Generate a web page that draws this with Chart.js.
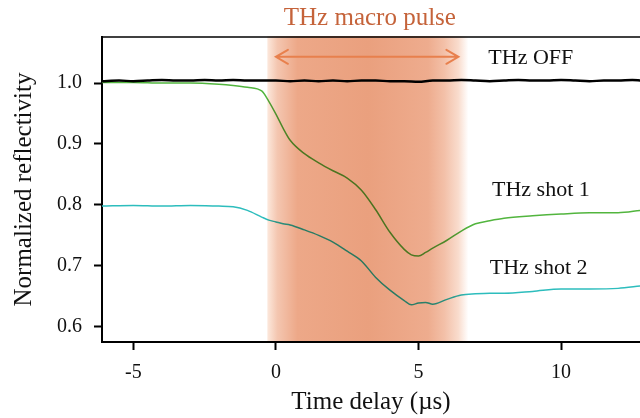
<!DOCTYPE html>
<html>
<head>
<meta charset="utf-8">
<script src="https://cdn.jsdelivr.net/npm/chart.js@4"></script>
<style>
  html, body { margin: 0; padding: 0; background: #fff; }
  #wrap { width: 640px; height: 418px; }
</style>
</head>
<body>
<div id="wrap"><canvas id="chart" width="640" height="418"></canvas></div>
<script>
// Time delay (µs) for the THz OFF trace
const offTimes = [-6.1, -5.5, -5, -4.5, -4, -3.5, -3, -2.5, -2, -1.5, -1, -0.5, 0, 0.5, 1, 1.5, 2, 2.5, 3, 3.5,
  4, 4.5, 5, 5.5, 6, 6.5, 7, 7.5, 8, 8.5, 9, 9.5, 10, 10.5, 11, 11.5, 12, 12.5, 12.8];
const thzOff = [1.003, 1.004, 1.003, 1.004, 1.005, 1.004, 1.004, 1.005, 1.004, 1.005, 1.004, 1.004, 1.004, 1.003, 1.004, 1.003, 1.004, 1.003, 1.004, 1.004,
  1.003, 1.003, 1.002, 1.004, 1.004, 1.005, 1.004, 1.003, 1.004, 1.005, 1.004, 1.004, 1.005, 1.004, 1.003, 1.004, 1.004, 1.005, 1.004];

// Time delay (µs) for the two THz shots
const shotTimes = [-6.1, -5, -4, -3, -2, -1.5, -1, -0.5, -0.25, 0, 0.25, 0.5, 1, 1.5, 2, 2.5, 3, 3.5, 4, 4.5,
  4.75, 5, 5.25, 5.5, 6, 6.5, 7, 7.5, 8, 9, 10, 11, 12, 12.8];
const thzShot1 = [1.001, 1.001, 1.000, 1.000, 0.998, 0.996, 0.993, 0.987, 0.970, 0.949, 0.926, 0.906, 0.884, 0.869, 0.856, 0.844, 0.824, 0.792, 0.755, 0.727,
  0.718, 0.716, 0.722, 0.729, 0.742, 0.757, 0.769, 0.774, 0.778, 0.782, 0.785, 0.787, 0.787, 0.791];
const thzShot2 = [0.798, 0.799, 0.798, 0.799, 0.798, 0.797, 0.791, 0.780, 0.775, 0.772, 0.769, 0.767, 0.759, 0.750, 0.739, 0.724, 0.708, 0.681, 0.660, 0.643,
  0.636, 0.639, 0.640, 0.637, 0.645, 0.652, 0.654, 0.655, 0.655, 0.658, 0.662, 0.662, 0.663, 0.667];

// Axis ticks
const xTicks = [-5, 0, 5, 10];
const yTicks = [0.6, 0.7, 0.8, 0.9, 1.0];

// THz macro pulse window and trace labels
const pulseWindow = [-0.3, 6.75];
const pulseArrow = [0, 6.4, 1.043];
const traceLabels = ['THz OFF', 'THz shot 1', 'THz shot 2'];
const labelX = [7.45, 7.58, 7.5];
const labelY = [1.040, 0.824, 0.696];

const serif = '"Liberation Serif", "Times New Roman", serif';

const toPoints = (xs, ys) => xs.map((x, i) => ({ x: x, y: ys[i] }));

// Draws the top frame line, the shaded pulse, arrow and text
const overlayPlugin = {
  id: 'overlay',
  beforeDatasetsDraw(chart) {
    const { ctx, chartArea } = chart;
    ctx.save();
    ctx.strokeStyle = '#000';
    ctx.lineWidth = 1.5;
    ctx.beginPath();
    ctx.moveTo(chartArea.left, chartArea.top);
    ctx.lineTo(chartArea.right, chartArea.top);
    ctx.stroke();
    ctx.restore();
  },
  afterDatasetsDraw(chart) {
    const { ctx, chartArea, scales } = chart;
    const x0 = scales.x.getPixelForValue(pulseWindow[0]);
    const x1 = scales.x.getPixelForValue(pulseWindow[1]);

    // shaded pulse, multiplied so the traces show through
    ctx.save();
    ctx.globalCompositeOperation = 'multiply';
    const grad = ctx.createLinearGradient(x0, 0, x1, 0);
    grad.addColorStop(0, 'rgb(252,232,220)');
    grad.addColorStop(0.05, 'rgb(244,198,176)');
    grad.addColorStop(0.15, 'rgb(237,168,136)');
    grad.addColorStop(0.5, 'rgb(234,160,126)');
    grad.addColorStop(0.8, 'rgb(238,172,142)');
    grad.addColorStop(0.88, 'rgb(243,192,168)');
    grad.addColorStop(0.95, 'rgb(249,220,205)');
    grad.addColorStop(1, 'rgb(255,255,255)');
    ctx.fillStyle = grad;
    ctx.fillRect(x0, chartArea.top - 1, x1 - x0, chartArea.bottom - chartArea.top);
    ctx.restore();

    // double arrow
    const ax0 = scales.x.getPixelForValue(pulseArrow[0]);
    const ax1 = scales.x.getPixelForValue(pulseArrow[1]);
    const ay = scales.y.getPixelForValue(pulseArrow[2]);
    ctx.save();
    ctx.strokeStyle = '#e8804d';
    ctx.lineWidth = 2;
    ctx.lineCap = 'round';
    ctx.beginPath();
    ctx.moveTo(ax0, ay);
    ctx.lineTo(ax1, ay);
    ctx.moveTo(ax0 + 12, ay - 7);
    ctx.lineTo(ax0, ay);
    ctx.lineTo(ax0 + 12, ay + 7);
    ctx.moveTo(ax1 - 12, ay - 7);
    ctx.lineTo(ax1, ay);
    ctx.lineTo(ax1 - 12, ay + 7);
    ctx.stroke();

    // pulse title
    ctx.fillStyle = '#c5633a';
    ctx.font = '25px ' + serif;
    ctx.textAlign = 'center';
    ctx.textBaseline = 'middle';
    ctx.fillText('THz macro pulse', (x0 + x1) / 2 + 2, chartArea.top - 19);

    // trace labels
    ctx.fillStyle = '#111';
    ctx.font = '22px ' + serif;
    ctx.textAlign = 'left';
    traceLabels.forEach((text, i) => {
      ctx.fillText(text, scales.x.getPixelForValue(labelX[i]), scales.y.getPixelForValue(labelY[i]));
    });
    ctx.restore();
  }
};

const ctx = document.getElementById('chart').getContext('2d');
new Chart(ctx, {
  type: 'line',
  data: {
    datasets: [
      {
        label: 'THz OFF',
        data: toPoints(offTimes, thzOff),
        borderColor: '#000',
        borderWidth: 2.5,
        pointRadius: 0,
        cubicInterpolationMode: 'monotone'
      },
      {
        label: 'THz shot 1',
        data: toPoints(shotTimes, thzShot1),
        borderColor: '#52b53e',
        borderWidth: 1.5,
        pointRadius: 0,
        cubicInterpolationMode: 'monotone'
      },
      {
        label: 'THz shot 2',
        data: toPoints(shotTimes, thzShot2),
        borderColor: '#2dbdbd',
        borderWidth: 1.5,
        pointRadius: 0,
        cubicInterpolationMode: 'monotone'
      }
    ]
  },
  options: {
    responsive: false,
    animation: false,
    devicePixelRatio: 1,
    layout: { padding: { top: 37, left: 0, right: 0, bottom: 0 } },
    plugins: {
      legend: { display: false },
      tooltip: { enabled: false }
    },
    scales: {
      x: {
        type: 'linear',
        min: -6.1,
        max: 12.77,
        afterBuildTicks: (scale) => { scale.ticks = xTicks.map(v => ({ value: v })); },
        afterFit: (scale) => { scale.height = 76; },
        grid: { drawOnChartArea: false, drawTicks: true, tickLength: 8, tickWidth: 2, color: '#000' },
        border: { display: true, color: '#000', width: 2 },
        ticks: {
          padding: 11,
          color: '#111',
          font: { family: serif, size: 20 },
          callback: (v) => String(v)
        },
        title: {
          display: true,
          text: 'Time delay (µs)',
          color: '#111',
          font: { family: serif, size: 25 },
          padding: { top: 0, bottom: 1 }
        }
      },
      y: {
        min: 0.575,
        max: 1.0755,
        afterBuildTicks: (scale) => { scale.ticks = yTicks.map(v => ({ value: v })); },
        afterFit: (scale) => { scale.width = 102; },
        grid: { drawOnChartArea: false, drawTicks: true, tickLength: 8, tickWidth: 2, color: '#000' },
        border: { display: true, color: '#000', width: 2 },
        ticks: {
          padding: 12,
          color: '#111',
          font: { family: serif, size: 20 },
          callback: (v) => v.toFixed(1)
        },
        title: {
          display: true,
          text: 'Normalized reflectivity',
          color: '#111',
          font: { family: serif, size: 25 },
          padding: { top: 9, bottom: 0 }
        }
      }
    }
  },
  plugins: [overlayPlugin]
});
</script>
</body>
</html>
